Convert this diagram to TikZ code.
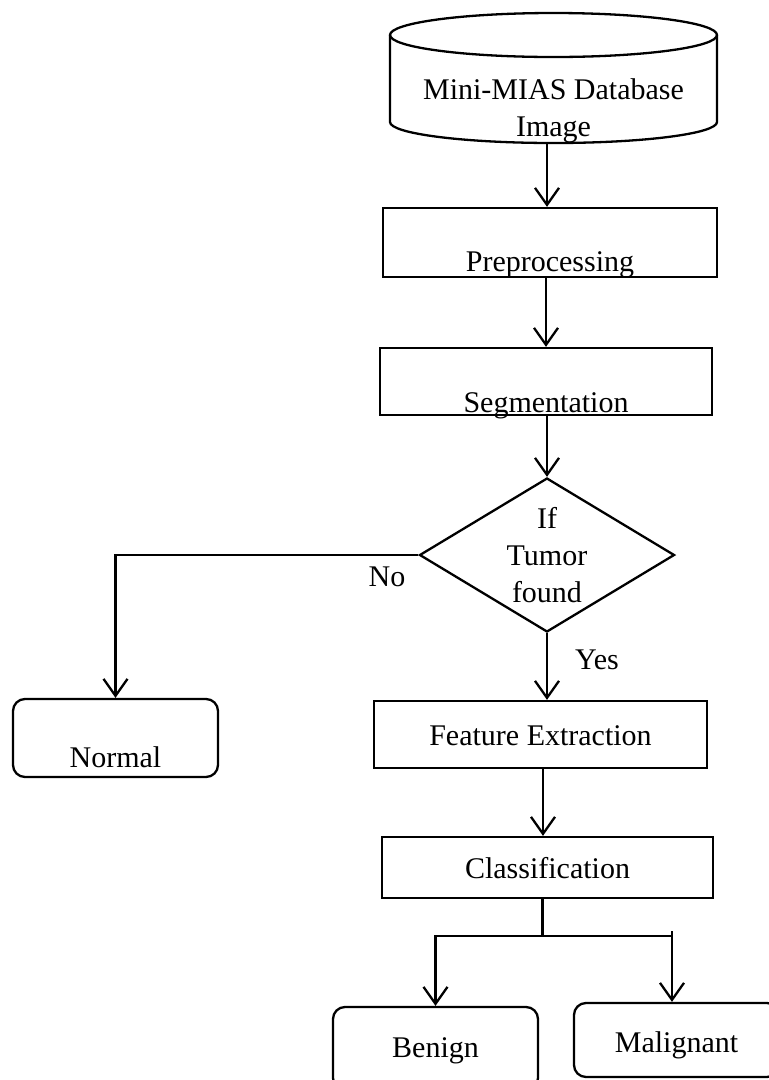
\documentclass[tikz,border=0pt]{standalone}
\usepackage{fontspec}
\setmainfont{Liberation Serif}
\usetikzlibrary{arrows.meta,shapes.geometric,calc}
\begin{document}
\begin{tikzpicture}[x=1pt,y=-1pt,
  every node/.style={font=\fontsize{30}{37}\selectfont, inner sep=0pt},
  lw/.style={line width=2.3pt},
  box/.style={draw, lw},
  rbox/.style={draw, lw, rounded corners=12pt},
  arr/.style={lw, -{Straight Barb[length=17pt,width=24pt,line width=2.3pt]}}]
\useasboundingbox (0,0) rectangle (769,1080);
\clip (0,0) rectangle (769,1080);
% database cylinder
\draw[lw] (553.5,35) ellipse [x radius=163.5pt, y radius=22pt];
\draw[lw] (390,35) -- (390,122) arc[start angle=180, end angle=360, x radius=163.5pt, y radius=21pt] -- (717,35);
\node[align=center] (db) at (553.5,111) {Mini-MIAS Database\\Image};
\coordinate (dbbot) at (547,143);
% process boxes
\node[box, minimum width=334pt, text height=63pt, text depth=6pt] (pre) at (550,242.5) {Preprocessing};
\node[box, minimum width=332pt, text height=64pt, text depth=3pt] (seg) at (546,381.5) {Segmentation};
\node[draw, lw, diamond, aspect=1.656, minimum width=255pt, minimum height=154pt, align=center] (dia) at (547,555) {If\\Tumor\\found};
\node[rbox, minimum width=205pt, text height=68pt, text depth=10pt] (norm) at (115.5,738) {Normal};
\node[box, minimum width=333pt, text height=44pt, text depth=23pt] (fe) at (540.5,734.5) {Feature Extraction};
\node[box, minimum width=331pt, text height=41pt, text depth=20pt] (cls) at (547.5,867.5) {Classification};
\node[rbox, minimum width=205pt, text height=50pt, text depth=33pt] (ben) at (435.5,1048.5) {Benign};
\node[rbox, minimum width=205pt, text height=49pt, text depth=25pt] (mal) at (676.5,1040) {Malignant};
% labels
\node (no) at (387,577) {No};
\node (yes) at (597,660) {Yes};
% connectors
\draw[arr] (dbbot) -- (dbbot |- pre.north);
\draw[arr] (seg.north |- pre.south) -- (seg.north);
\draw[arr] (dia.north |- seg.south) -- (dia.north);
\draw[arr] (dia.west) -| (norm.north);
\draw[arr] (dia.south) -- (dia.south |- fe.north);
\draw[arr] ([xshift=2.5pt]fe.south) -- ([xshift=2.5pt]fe.south |- cls.north);
\draw[lw] ([xshift=-5pt]cls.south) -- ++(0,37) coordinate (br);
\draw[arr] (br) -| (ben.north);
\coordinate (mtop) at ([xshift=-4.5pt]mal.north);
\draw[lw] (br) -- (br -| mtop);
\draw[arr] ($(br -| mtop)+(0,-5)$) -- (mtop);
\end{tikzpicture}
\end{document}
